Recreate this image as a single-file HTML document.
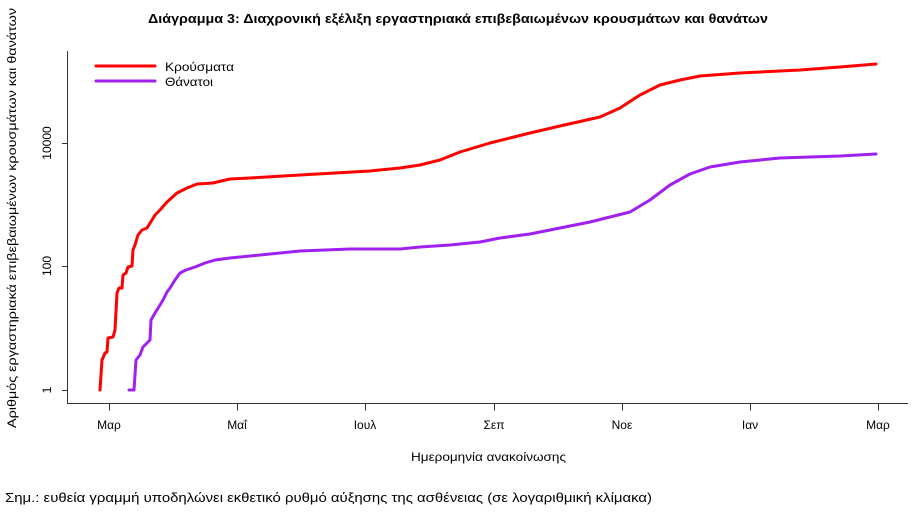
<!DOCTYPE html>
<html><head><meta charset="utf-8"><style>
body{margin:0;background:#fff;}
svg{display:block;font-family:"Liberation Sans",sans-serif;}
</style></head><body>
<svg width="912" height="523" viewBox="0 0 912 523">
<text x="148" y="23" textLength="620" lengthAdjust="spacingAndGlyphs" font-size="13" font-weight="bold" fill="#000">Διάγραμμα 3: Διαχρονική εξέλιξη εργαστηριακά επιβεβαιωμένων κρουσμάτων και θανάτων</text>
<g stroke="#333" stroke-width="1" fill="none">
<path d="M67.5 51V403.5H908"/>
<path d="M62 390.5H67.5M62 266.5H67.5M62 143.5H67.5"/>
<path d="M109.5 403.5v7M237.5 403.5v7M365.5 403.5v7M494.5 403.5v7M622.5 403.5v7M750.5 403.5v7M878.5 403.5v7"/>
</g>
<g font-size="12" fill="#000" text-anchor="middle">
<text transform="translate(47,390) rotate(-90)" dy="4">1</text>
<text transform="translate(47,266) rotate(-90)" dy="4">100</text>
<text transform="translate(47,143) rotate(-90)" dy="4">10000</text>
<text x="109" y="429">Μαρ</text><text x="237" y="429">Μαΐ</text><text x="365" y="429">Ιουλ</text><text x="494" y="429">Σεπ</text><text x="622" y="429">Νοε</text><text x="750" y="429">Ιαν</text><text x="878" y="429">Μαρ</text>
</g>
<g font-size="12" fill="#000">
<text x="411" y="461" textLength="155" lengthAdjust="spacingAndGlyphs">Ημερομηνία ανακοίνωσης</text>
<text transform="translate(16,428) rotate(-90)" textLength="420" lengthAdjust="spacingAndGlyphs">Αριθμός εργαστηριακά επιβεβαιωμένων κρουσμάτων και θανάτων</text>
</g>
<text x="5" y="502" font-size="13" fill="#000" textLength="647" lengthAdjust="spacingAndGlyphs">Σημ.: ευθεία γραμμή υποδηλώνει εκθετικό ρυθμό αύξησης της ασθένειας (σε λογαριθμική κλίμακα)</text>
<g fill="none" stroke-width="3" stroke-linejoin="round" stroke-linecap="round">
<path stroke="#ff0000" d="M100 390L102 360L105 353L107 352L108 338L113 337L115 330L117 293L119 288L122 288L123 275L126 273L128 267L132 266L133 250L135 245L138 235L142 230L147 228L152 220L155 215L160 210L167 202L177 193L187 188L197 184L213 183L217 182L230 179L250 178L300 175L370 171L400 168L420 165L440 160L460 152L490 143L510 138L530 133L560 126L600 117L620 108L640 95L660 85L680 80L700 76L740 73L800 70L840 67L876 64"/>
<path stroke="#a020f0" d="M129 390L134 390L136 360L140 355L143 347L145 345L148 342L150 340L151 320L155 313L160 305L163 300L167 292L170 288L175 280L180 273L186 270L195 267L205 263L215 260L230 258L250 256L300 251L350 249L400 249L420 247L450 245L480 242L500 238L530 234L560 228L590 222L610 217L630 212L650 200L670 185L690 174L710 167L740 162L780 158L840 156L876 154"/>
<path stroke="#ff0000" d="M96 66H155"/>
<path stroke="#a020f0" d="M96 81H155"/>
</g>
<g font-size="12" fill="#000">
<text x="165" y="71" textLength="69" lengthAdjust="spacingAndGlyphs">Κρούσματα</text>
<text x="165" y="86" textLength="48" lengthAdjust="spacingAndGlyphs">Θάνατοι</text>
</g>
</svg>
</body></html>
